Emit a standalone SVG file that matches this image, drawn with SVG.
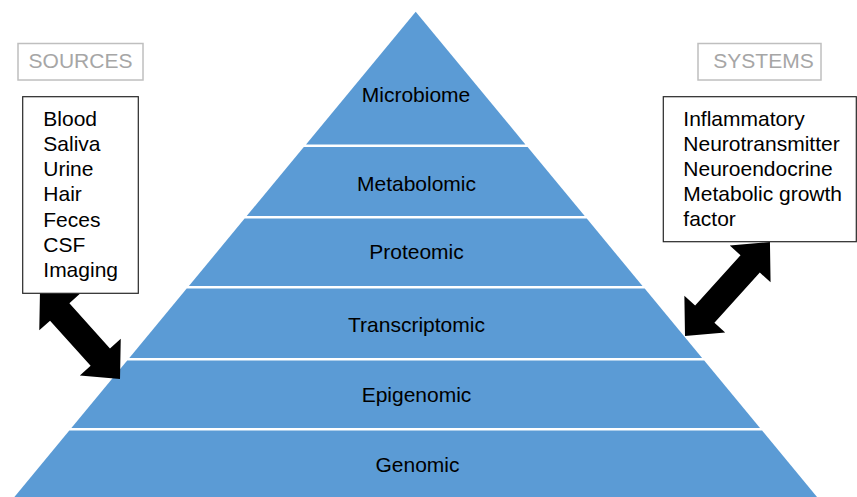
<svg xmlns="http://www.w3.org/2000/svg" width="857" height="497" viewBox="0 0 857 497">
<style>
.band{fill:#5B9BD5;}
.lbl{font-family:"Liberation Sans",Arial,sans-serif;font-size:21px;fill:#000;text-anchor:middle;}
.txt{font-family:"Liberation Sans",Arial,sans-serif;font-size:21px;fill:#000;}
.hdr{font-family:"Liberation Sans",Arial,sans-serif;font-size:21px;fill:#A6A6A6;text-anchor:middle;}
.hdrbox{fill:#fff;stroke:#BFBFBF;stroke-width:1.5;}
.listbox{fill:#fff;stroke:#262626;stroke-width:1.2;}
.arrow{fill:#000;}
</style>
<rect width="857" height="497" fill="#fff"/>
<g id="pyramid">
  <g id="microbiome">
    <polygon class="band" points="415.7,11.7 525.4,144.4 306,144.4"/>
    <text class="lbl" x="416" y="102">Microbiome</text>
  </g>
  <g id="metabolomic">
    <polygon class="band" points="303.8,147 527.6,147 584.7,216 246.7,216"/>
    <text class="lbl" x="416.5" y="190.7">Metabolomic</text>
  </g>
  <g id="proteomic">
    <polygon class="band" points="244.6,218.6 586.8,218.6 642.5,286 188.9,286"/>
    <text class="lbl" x="416.5" y="259.3">Proteomic</text>
  </g>
  <g id="transcriptomic">
    <polygon class="band" points="186.7,288.6 644.7,288.6 702.1,358 129.3,358"/>
    <text class="lbl" x="416.5" y="331.7">Transcriptomic</text>
  </g>
  <g id="epigenomic">
    <polygon class="band" points="127.2,360.6 704.2,360.6 760,428 71.4,428"/>
    <text class="lbl" x="416.5" y="401.7">Epigenomic</text>
  </g>
  <g id="genomic">
    <polygon class="band" points="69.3,430.6 762.1,430.6 819.5,500 11.9,500"/>
    <text class="lbl" x="417.5" y="471.7">Genomic</text>
  </g>
</g>
<g id="connectors">
  <polygon class="arrow" transform="translate(40,290) rotate(48.05)" points="0,0 29.5,-27.5 29.5,-13 90.2,-13 90.2,-27.5 119.7,0 90.2,27.5 90.2,13 29.5,13 29.5,27.5"/>
  <polygon class="arrow" transform="translate(685,336) rotate(-47.9)" points="0,0 29.5,-27.5 29.5,-13 97.2,-13 97.2,-27.5 126.7,0 97.2,27.5 97.2,13 29.5,13 29.5,27.5"/>
</g>
<g id="sources-header">
  <rect class="hdrbox" x="18" y="43.5" width="125" height="36.5"/>
  <text class="hdr" x="80.5" y="67.7">SOURCES</text>
</g>
<g id="systems-header">
  <rect class="hdrbox" x="698" y="43.5" width="123" height="36.5"/>
  <text class="hdr" x="763.5" y="67.7">SYSTEMS</text>
</g>
<g id="sources">
  <rect class="listbox" x="22.7" y="96.7" width="115.6" height="196.6"/>
  <text class="txt" x="43.3" y="125.7">Blood</text>
  <text class="txt" x="43.3" y="150.9">Saliva</text>
  <text class="txt" x="43.3" y="176.1">Urine</text>
  <text class="txt" x="43.3" y="201.3">Hair</text>
  <text class="txt" x="43.3" y="226.5">Feces</text>
  <text class="txt" x="43.3" y="251.7">CSF</text>
  <text class="txt" x="43.3" y="276.9">Imaging</text>
</g>
<g id="systems">
  <rect class="listbox" x="663.3" y="96.7" width="193" height="145"/>
  <text class="txt" x="683.3" y="126">Inflammatory</text>
  <text class="txt" x="683.3" y="151">Neurotransmitter</text>
  <text class="txt" x="683.3" y="176">Neuroendocrine</text>
  <text class="txt" x="683.3" y="201">Metabolic growth</text>
  <text class="txt" x="683.3" y="226">factor</text>
</g>
</svg>
